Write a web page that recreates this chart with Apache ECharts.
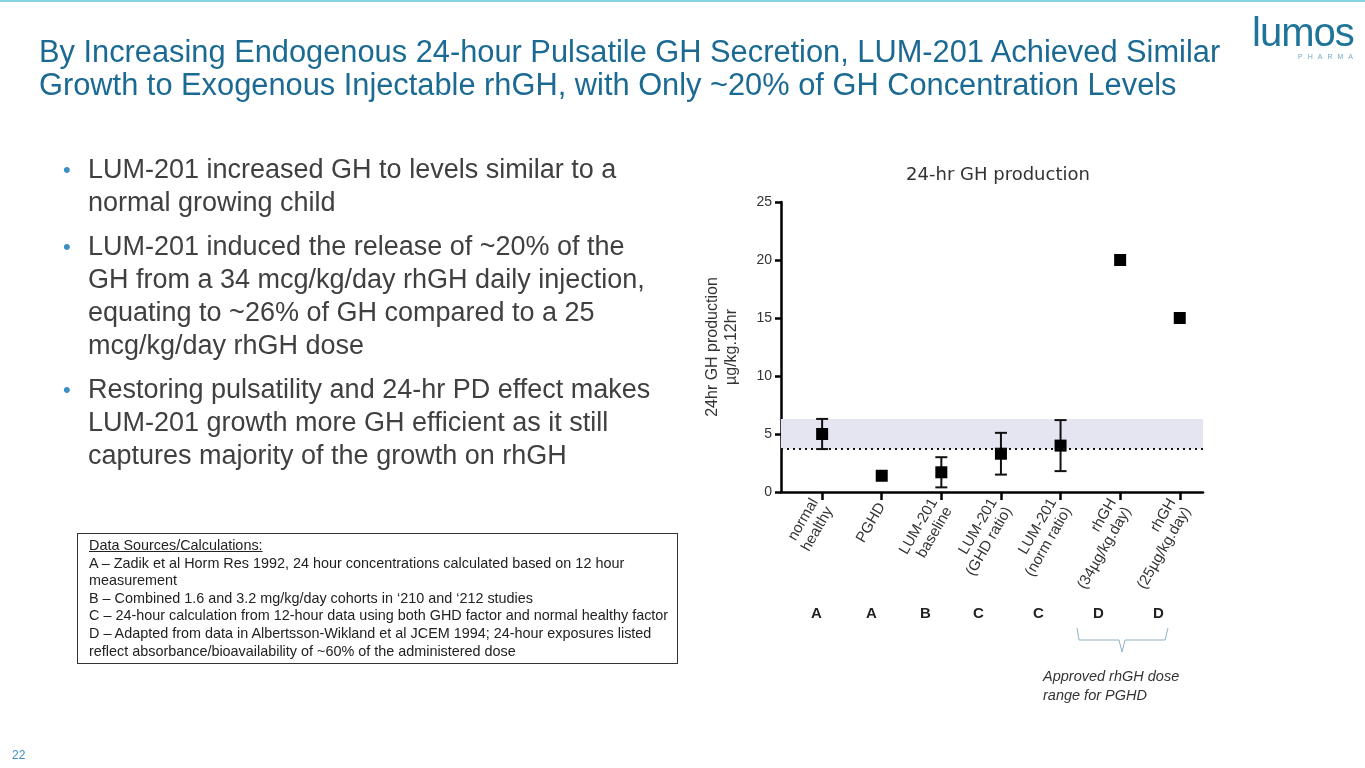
<!DOCTYPE html>
<html>
<head>
<meta charset="utf-8">
<script src="https://cdn.jsdelivr.net/npm/echarts@6/dist/echarts.min.js"></script>
<style>
  html, body { margin: 0; padding: 0; background: #fff; }
  body { width: 1365px; height: 768px; position: relative; overflow: hidden;
         font-family: "Liberation Sans", Arial, sans-serif; }
  #topline { position: absolute; left: 0; top: 0; width: 1365px; height: 2px; background: #86d3e3; }
  #title { position: absolute; left: 39px; top: 35px; color: #1b6a93; font-size: 30.8px; line-height: 33px; white-space: nowrap; }
  #logo { position: absolute; left: 1252px; top: 10px; color: #1f7599; font-size: 40px; font-weight: 300; letter-spacing: -1px; }
  #pharma { position: absolute; left: 1298px; top: 53px; color: #6fa9c6; font-size: 7px; letter-spacing: 5px; }
  #bullets { position: absolute; left: 63px; top: 153px; color: #404040; font-size: 27px; line-height: 33px; white-space: nowrap; }
  .b { position: relative; padding-left: 25px; margin-bottom: 11px; }
  .b:before { content: "\2022"; position: absolute; left: 0; top: 0; color: #3b8fc2; font-size: 22px; }
  #box { position: absolute; left: 77px; top: 533px; width: 588px; height: 124px; border: 1px solid #333;
         padding: 3px 0 2px 11px; color: #222; font-size: 14.4px; line-height: 17.6px; white-space: nowrap; }
  #box u { text-decoration: underline; }
  #page { position: absolute; left: 12px; top: 748px; color: #3b8fc2; font-size: 12px; }
  #chart { position: absolute; left: 0; top: 0; width: 1365px; height: 768px; }
</style>
</head>
<body>
<div id="chart"></div>
<div id="topline"></div>
<div id="title">By Increasing Endogenous 24-hour Pulsatile GH Secretion, LUM-201 Achieved Similar<br>Growth to Exogenous Injectable rhGH, with Only ~20% of GH Concentration Levels</div>
<div id="logo">lumos</div>
<div id="pharma">PHARMA</div>
<div id="bullets">
  <div class="b">LUM-201 increased GH to levels similar to a<br>normal growing child</div>
  <div class="b">LUM-201 induced the release of ~20% of the<br>GH from a 34 mcg/kg/day rhGH daily injection,<br>equating to ~26% of GH compared to a 25<br>mcg/kg/day rhGH dose</div>
  <div class="b">Restoring pulsatility and 24-hr PD effect makes<br>LUM-201 growth more GH efficient as it still<br>captures majority of the growth on rhGH</div>
</div>
<div id="box"><u>Data Sources/Calculations:</u><br>
A – Zadik et al Horm Res 1992, 24 hour concentrations calculated based on 12 hour<br>measurement<br>
B – Combined 1.6 and 3.2 mg/kg/day cohorts in ‘210 and ‘212 studies<br>
C – 24-hour calculation from 12-hour data using both GHD factor and normal healthy factor<br>
D – Adapted from data in Albertsson-Wikland et al JCEM 1994; 24-hour exposures listed<br>reflect absorbance/bioavailability of ~60% of the administered dose</div>
<div id="page">22</div>
<script>
// categories and values
var groups = ['normal\nhealthy', 'PGHD', 'LUM-201\nbaseline', 'LUM-201\n(GHD ratio)',
              'LUM-201\n(norm ratio)', 'rhGH\n(34µg/kg.day)', 'rhGH\n(25µg/kg.day)'];
var means = [5.0, 1.4, 1.7, 3.3, 4.0, 20.0, 15.0];
var errLow = [3.7, null, 0.4, 1.5, 1.8, null, null];
var errHigh = [6.3, null, 3.0, 5.1, 6.2, null, null];
var sources = ['A', 'A', 'B', 'C', 'C', 'D', 'D'];
var normalRange = [3.7, 6.3];
var yTicks = [0, 5, 10, 15, 20, 25];

var letterX = [811, 866, 920, 973, 1033, 1093, 1153];

var chartDom = document.getElementById('chart');
var myChart = echarts.init(chartDom);

var points = means.map(function (v, i) { return [i, v]; });
var bars = [];
for (var i = 0; i < means.length; i++) {
  if (errLow[i] != null) bars.push([i, errLow[i], errHigh[i]]);
}
var tickIdx = groups.map(function (g, i) { return i; });

var letters = sources.map(function (s, i) {
  return {
    type: 'text', left: letterX[i], top: 606,
    style: { text: s, fill: '#222', font: 'bold 15px "Liberation Sans", Arial' }
  };
});

var option = {
  animation: false,
  title: {
    text: '24-hr GH production', left: 993, top: 161, textAlign: 'center',
    textStyle: { fontFamily: 'DejaVu Sans', fontSize: 18, fontWeight: 'normal', color: '#333' }
  },
  grid: { left: 781, top: 202, width: 422, height: 290 },
  xAxis: {
    type: 'value', min: -0.69, max: 6.39,
    splitLine: { show: false },
    axisLine: { lineStyle: { color: '#000', width: 2.5 } },
    axisTick: { show: true, customValues: tickIdx, length: 8, lineStyle: { color: '#000', width: 2.5 } },
    axisLabel: {
      customValues: tickIdx, rotate: 60, margin: 12, color: '#333',
      fontFamily: '"Liberation Sans", Arial', fontSize: 15, lineHeight: 17,
      formatter: function (v) { return groups[Math.round(v)]; }
    }
  },
  yAxis: {
    type: 'value', min: 0, max: 25, interval: 5,
    name: '24hr GH production\nµg/kg.12hr', nameLocation: 'middle', nameGap: 40, nameRotate: 90,
    nameTextStyle: { color: '#333', fontFamily: '"Liberation Sans", Arial', fontSize: 16, lineHeight: 19 },
    splitLine: { show: false },
    axisLine: { show: true, onZero: false, lineStyle: { color: '#000', width: 2.5 } },
    axisTick: { show: true, length: 6, lineStyle: { color: '#000', width: 2.5 } },
    axisLabel: {
      color: '#333', fontFamily: '"Liberation Sans", Arial', fontSize: 14, margin: 9,
      formatter: function (v) { return yTicks.indexOf(v) >= 0 ? String(v) : ''; }
    }
  },
  series: [
    {
      type: 'custom', z: 3,
      data: bars,
      renderItem: function (params, api) {
        var top = api.coord([api.value(0), api.value(2)]);
        var bot = api.coord([api.value(0), api.value(1)]);
        var w = 6;
        var st = { stroke: '#111', lineWidth: 2 };
        return {
          type: 'group', children: [
            { type: 'line', shape: { x1: top[0], y1: top[1], x2: bot[0], y2: bot[1] }, style: st },
            { type: 'line', shape: { x1: top[0] - w, y1: top[1], x2: top[0] + w, y2: top[1] }, style: st },
            { type: 'line', shape: { x1: bot[0] - w, y1: bot[1], x2: bot[0] + w, y2: bot[1] }, style: st }
          ]
        };
      }
    },
    {
      type: 'scatter', z: 4,
      symbol: 'rect', symbolSize: 12,
      itemStyle: { color: '#000', opacity: 1 },
      data: points,
      markArea: {
        silent: true,
        itemStyle: { color: '#e5e5f1' },
        data: [[{ yAxis: normalRange[0] }, { yAxis: normalRange[1] }]]
      },
      markLine: {
        silent: true, symbol: 'none', label: { show: false },
        lineStyle: { color: '#111', type: [2, 4], width: 2 },
        data: [{ yAxis: normalRange[0] }]
      }
    }
  ],
  graphic: letters.concat([
    {
      type: 'polyline',
      shape: { points: [[1077, 628], [1079, 640], [1119, 640], [1122, 652], [1125, 640], [1165, 640], [1168, 628]] },
      style: { stroke: '#8fb1c4', lineWidth: 1, fill: null }
    },
    {
      type: 'text', left: 1043, top: 667,
      style: { text: 'Approved rhGH dose\nrange for PGHD', fill: '#333', lineHeight: 19,
               font: 'italic 14.5px "Liberation Sans", Arial' }
    }
  ])
};

option && myChart.setOption(option);
</script>
</body>
</html>
